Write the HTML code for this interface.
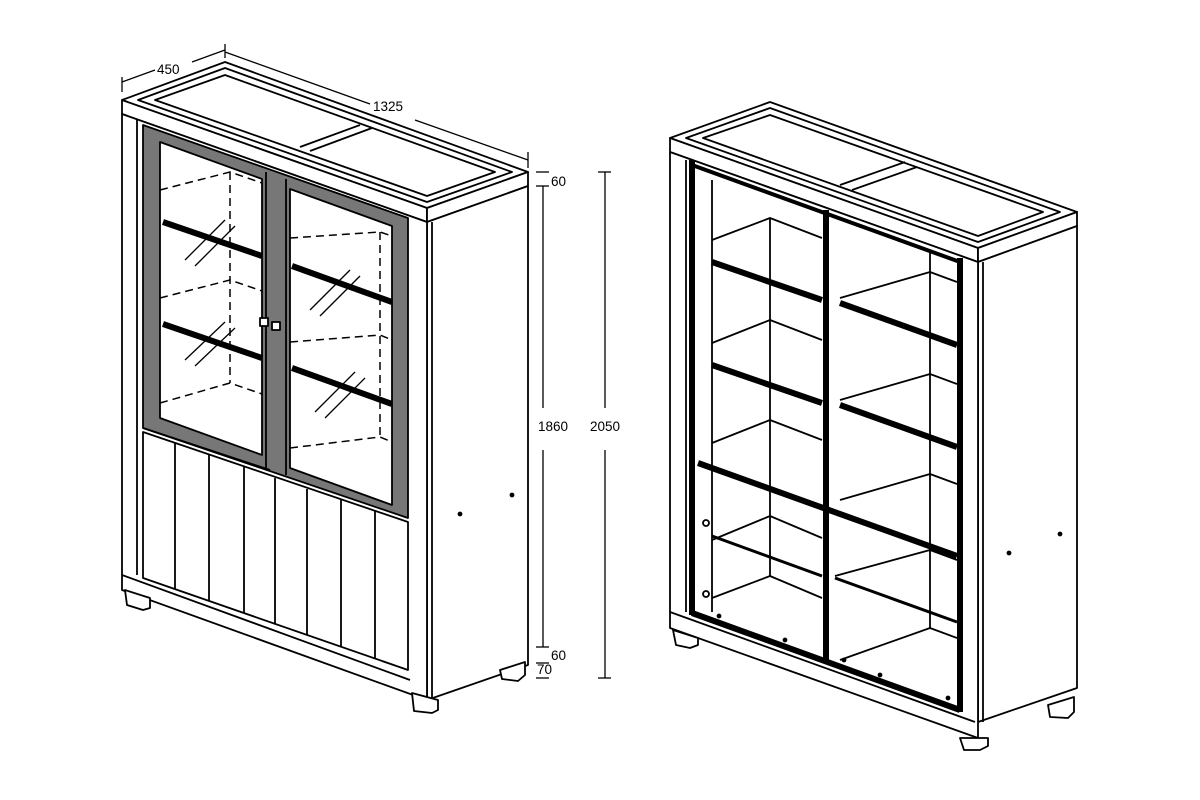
<!DOCTYPE html>
<html><head><style>body{margin:0;background:#fff}svg{display:block}text{font-family:"Liberation Sans",sans-serif;font-size:13.5px;fill:#000}</style></head>
<body>
<svg width="1200" height="800" viewBox="0 0 1200 800" stroke="#000" stroke-width="1.8" fill="none" stroke-linejoin="round">
<!-- LEFT CABINET -->
<g>
<polygon points="122,100 225,62 528,172 427,208" fill="#fff"/>
<polygon points="138,100 225,68 512,172 427,202" />
<polygon points="155,100 225,75 495,172 427,196" />
<line x1="300" y1="147" x2="360" y2="125"/><line x1="310" y1="151" x2="372" y2="128"/>
<polygon points="122,100 427,208 427,222 122,114" fill="#fff"/>
<polygon points="427,208 528,172 528,186 427,222" fill="#fff"/>
<polygon points="427,222 528,186 528,665 427,700" fill="#fff"/>
<line x1="432" y1="222" x2="432" y2="700"/>
<polygon points="122,114 427,222 427,700 122,590" fill="#fff"/>
<line x1="137" y1="120" x2="137" y2="575"/>
<line x1="122" y1="575" x2="410" y2="680"/>
<polygon points="125,590 150,598 150,608 143,610 127,605" fill="#fff"/>
<polygon points="412,693 438,700 438,710 432,713 414,711" fill="#fff"/>
<polygon points="500,670 525,662 525,675 518,681 502,679" fill="#fff"/>
<!-- glass frame -->
<polygon points="143,125 408,218 408,518 143,428" fill="#777"/>
<polygon points="160,142 262,179 262,455 160,418" fill="#fff"/>
<polygon points="290,189 392,226 392,505 290,468" fill="#fff"/>
<line x1="143" y1="428" x2="270" y2="470"/>
<line x1="266" y1="172" x2="266" y2="470"/><line x1="286" y1="179" x2="286" y2="475"/>
<g stroke-dasharray="8,5" stroke-width="1.5">
<polyline points="160,190 230,172 262,183"/><polyline points="160,298 230,280 262,291"/><polyline points="160,403 230,383 262,394"/>
<line x1="230" y1="172" x2="230" y2="383"/>
<polyline points="290,238 380,232 392,236"/><polyline points="290,342 380,335 392,340"/><polyline points="290,448 380,437 392,442"/>
<line x1="380" y1="232" x2="380" y2="437"/>
</g>
<line x1="163" y1="222" x2="262" y2="256" stroke-width="6"/>
<line x1="163" y1="324" x2="262" y2="358" stroke-width="6"/>
<line x1="292" y1="266" x2="392" y2="302" stroke-width="6"/>
<line x1="292" y1="368" x2="392" y2="404" stroke-width="6"/>
<g stroke-width="1.3"><line x1="185" y1="260" x2="225" y2="220"/><line x1="195" y1="266" x2="235" y2="226"/>
<line x1="185" y1="360" x2="225" y2="322"/><line x1="195" y1="366" x2="235" y2="328"/>
<line x1="310" y1="310" x2="350" y2="270"/><line x1="320" y1="316" x2="360" y2="276"/>
<line x1="315" y1="412" x2="355" y2="372"/><line x1="325" y1="418" x2="365" y2="378"/></g>
<rect x="260" y="318" width="8" height="8" fill="#fff"/><rect x="272" y="322" width="8" height="8" fill="#fff"/>
<!-- lower panels -->
<polygon points="143,432 408,522 408,670 143,578" fill="#fff"/>
<line x1="175" y1="443" x2="175" y2="589"/><line x1="209" y1="455" x2="209" y2="601"/>
<line x1="244" y1="467" x2="244" y2="613"/><line x1="275" y1="478" x2="275" y2="624"/>
<line x1="307" y1="489" x2="307" y2="635"/><line x1="341" y1="500" x2="341" y2="647"/>
<line x1="375" y1="511" x2="375" y2="659"/>
<circle cx="460" cy="514" r="1.5" fill="#000"/><circle cx="512" cy="495" r="1.5" fill="#000"/>
</g>
<!-- DIMENSIONS -->
<g stroke-width="1.3">
<line x1="122" y1="82" x2="155" y2="70"/><line x1="122" y1="77" x2="122" y2="92"/>
<line x1="192" y1="62" x2="225" y2="50"/><line x1="225" y1="44" x2="225" y2="58"/>
<line x1="225" y1="52" x2="370" y2="104"/><line x1="415" y1="120" x2="528" y2="160"/><line x1="528" y1="152" x2="528" y2="168"/>
<line x1="536" y1="172" x2="549" y2="172"/><line x1="536" y1="186" x2="549" y2="186"/>
<line x1="543" y1="186" x2="543" y2="408"/><line x1="543" y1="450" x2="543" y2="647"/>
<line x1="536" y1="647" x2="549" y2="647"/><line x1="536" y1="663" x2="549" y2="663"/><line x1="536" y1="678" x2="549" y2="678"/>
<line x1="598" y1="172" x2="611" y2="172"/><line x1="605" y1="172" x2="605" y2="408"/><line x1="605" y1="450" x2="605" y2="678"/><line x1="598" y1="678" x2="611" y2="678"/>
</g>
<g stroke="none">
<text x="157" y="74">450</text><text x="373" y="111">1325</text>
<text x="551" y="186">60</text><text x="538" y="431">1860</text><text x="590" y="431">2050</text>
<text x="551" y="660">60</text><text x="537" y="674">70</text>
</g>
<!-- RIGHT CABINET -->
<g>
<polygon points="670,138 770,102 1077,212 978,248" fill="#fff"/>
<polygon points="686,138 770,108 1060,212 978,242"/>
<polygon points="703,138 770,115 1043,212 978,236"/>
<line x1="840" y1="185" x2="905" y2="162"/><line x1="852" y1="190" x2="917" y2="167"/>
<polygon points="670,138 978,248 978,262 670,152" fill="#fff"/>
<polygon points="978,248 1077,212 1077,226 978,262" fill="#fff"/>
<polygon points="978,262 1077,226 1077,688 978,722" fill="#fff"/>
<polygon points="670,152 978,262 978,738 670,628" fill="#fff"/>
<line x1="983" y1="262" x2="983" y2="722"/>
<line x1="670" y1="612" x2="975" y2="722"/>
<line x1="686" y1="160" x2="686" y2="612"/>
<!-- interior -->
<polyline points="712,240 770,218 822,238" /><polyline points="712,343 770,320 822,340"/>
<polyline points="712,443 770,420 822,440"/><polyline points="712,540 770,516 822,538"/><polyline points="712,598 770,576 822,598"/>
<line x1="770" y1="218" x2="770" y2="576"/>
<line x1="712" y1="180" x2="712" y2="612"/>
<polyline points="840,298 930,272 957,282"/><polyline points="840,400 930,374 957,384"/>
<polyline points="840,500 930,474 957,484"/><polyline points="835,576 930,550 957,560"/><polyline points="840,660 930,628 957,638"/>
<line x1="930" y1="250" x2="930" y2="628"/>
<line x1="712" y1="262" x2="822" y2="300" stroke-width="6"/>
<line x1="712" y1="365" x2="822" y2="403" stroke-width="6"/>
<line x1="840" y1="303" x2="957" y2="345" stroke-width="6"/>
<line x1="840" y1="405" x2="957" y2="447" stroke-width="6"/>
<line x1="698" y1="463" x2="957" y2="556" stroke-width="6"/>
<line x1="712" y1="536" x2="822" y2="576" stroke-width="3"/>
<line x1="835" y1="578" x2="957" y2="622" stroke-width="3"/>
<line x1="692" y1="160" x2="692" y2="615" stroke-width="6"/>
<line x1="826" y1="210" x2="826" y2="660" stroke-width="6"/>
<line x1="960" y1="258" x2="960" y2="712" stroke-width="6"/>
<line x1="692" y1="613" x2="960" y2="710" stroke-width="6"/>
<line x1="692" y1="165" x2="960" y2="262" stroke-width="4"/>
<circle cx="706" cy="523" r="3"/><circle cx="706" cy="594" r="3"/>
<circle cx="719" cy="616" r="1.5" fill="#000"/><circle cx="785" cy="640" r="1.5" fill="#000"/><circle cx="844" cy="660" r="1.5" fill="#000"/><circle cx="880" cy="675" r="1.5" fill="#000"/><circle cx="948" cy="698" r="1.5" fill="#000"/>
<circle cx="1009" cy="553" r="1.5" fill="#000"/><circle cx="1060" cy="534" r="1.5" fill="#000"/>
<polygon points="673,630 698,638 698,645 690,648 676,645" fill="#fff"/>
<polygon points="960,738 988,738 988,746 980,750 964,750" fill="#fff"/>
<polygon points="1048,705 1074,697 1074,712 1068,718 1050,717" fill="#fff"/>
</g>
</svg>
</body></html>
